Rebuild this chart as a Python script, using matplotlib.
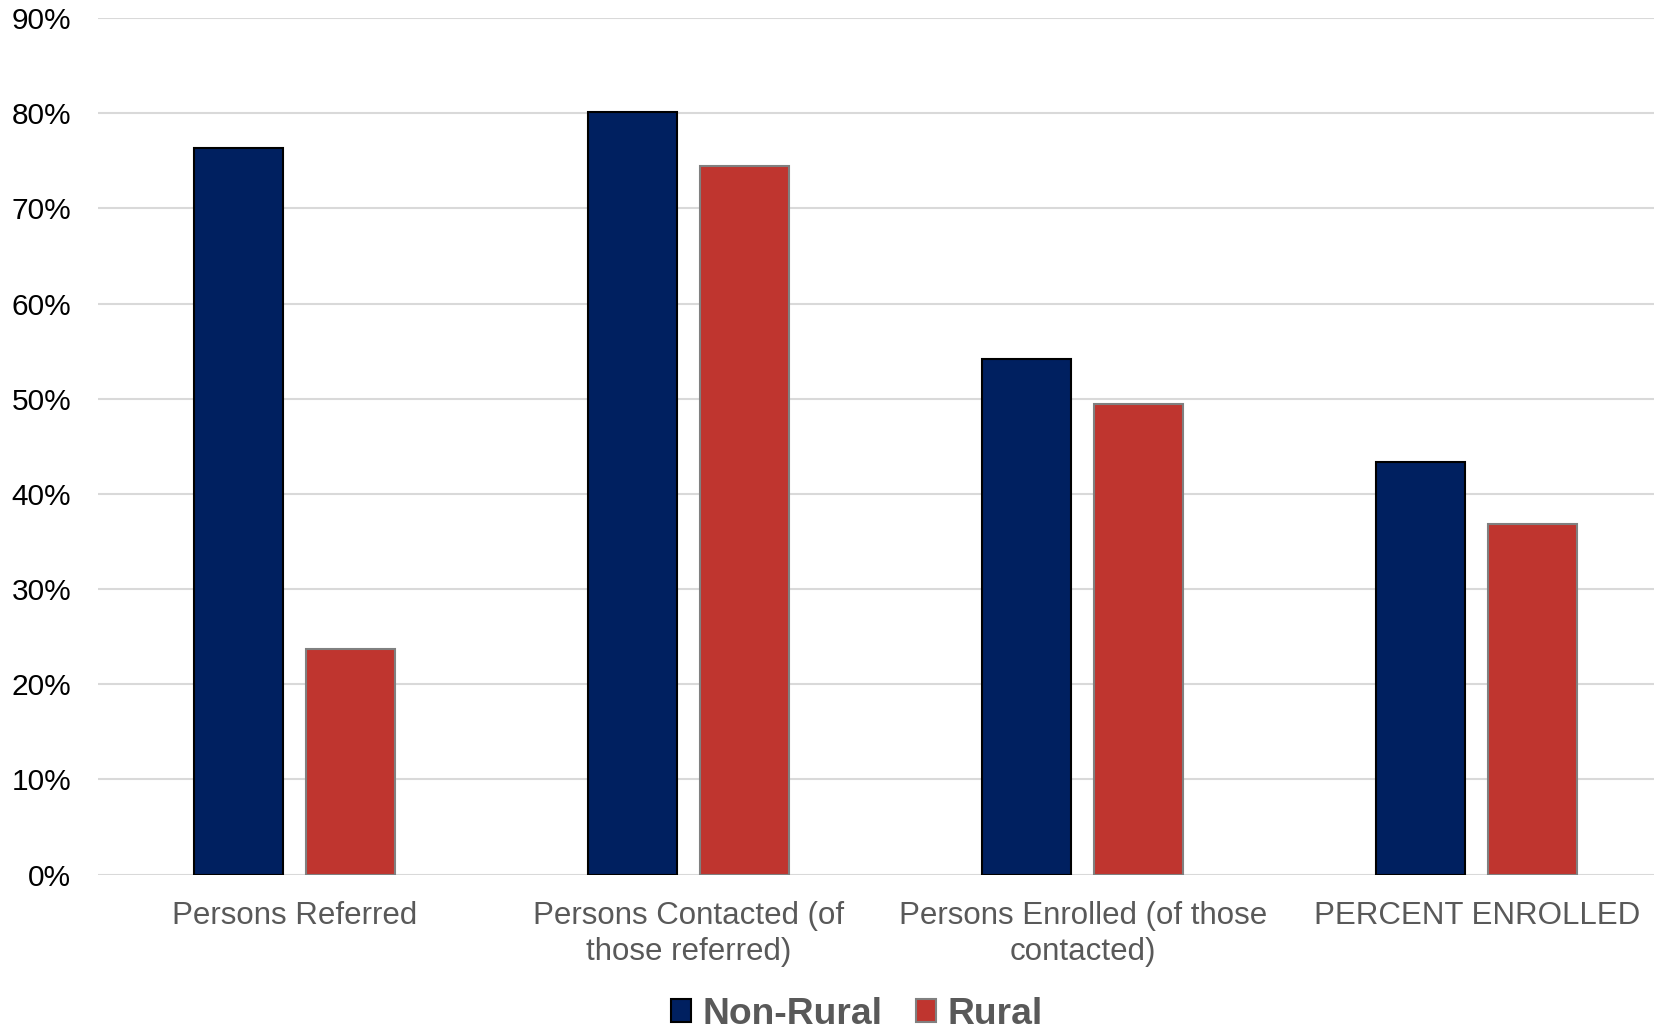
import matplotlib
matplotlib.use("Agg")
import matplotlib.pyplot as plt
import numpy as np
from matplotlib.ticker import PercentFormatter

plt.rcParams['font.family'] = ['Liberation Sans', 'DejaVu Sans']

# Data
categories = ["Persons Referred",
              "Persons Contacted (of\nthose referred)",
              "Persons Enrolled (of those\ncontacted)",
              "PERCENT ENROLLED"]
non_rural = [76.3, 80.1, 54.2, 43.4]
rural = [23.7, 74.5, 49.4, 36.8]

navy = "#002060"
red = "#BF352F"
label_gray = "#595959"

fig = plt.figure(figsize=(16.54, 10.29), dpi=100)
ax = fig.add_axes([0.059, 0.150, 0.953, 0.8325])

x = np.arange(len(categories))
w = 0.225
ax.bar(x - 0.143, non_rural, w, color=navy, edgecolor="black", linewidth=1.5,
       label="Non-Rural", zorder=3)
ax.bar(x + 0.141, rural, w, color=red, edgecolor="#808080", linewidth=1.5,
       label="Rural", zorder=3)

ax.set_xlim(-0.5, len(categories) - 0.5)
ax.set_ylim(0, 90)
ax.set_yticks(np.arange(0, 91, 10))
ax.yaxis.set_major_formatter(PercentFormatter(decimals=0))
ax.grid(axis="y", color="#D9D9D9", linewidth=1.5, zorder=0)
ax.set_axisbelow(True)
for s in ax.spines.values():
    s.set_visible(False)

ax.set_xticks(x)
ax.set_xticklabels(categories, fontsize=22.5, color=label_gray, linespacing=1.27)
ax.tick_params(axis="x", length=0, pad=19)
ax.tick_params(axis="y", length=0, pad=19, labelsize=21.5, labelcolor="black")

leg = fig.legend(loc="center", bbox_to_anchor=(0.518, 0.0145), ncol=2,
                 frameon=False, handlelength=0.55,
                 handleheight=0.55, handletextpad=0.3, columnspacing=0.9,
                 prop={"weight": "bold", "size": 26.8})
for t in leg.get_texts():
    t.set_color(label_gray)

fig.savefig("out.png", dpi=100)
